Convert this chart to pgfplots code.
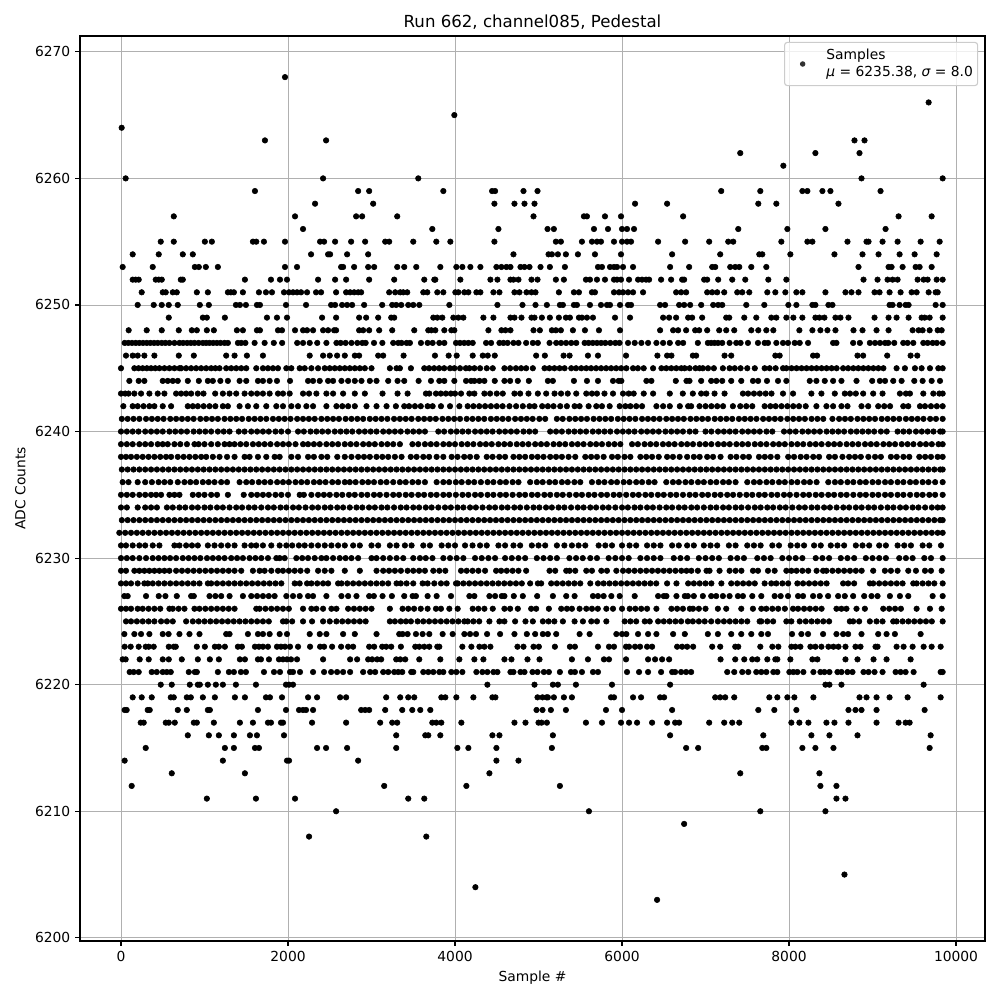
\documentclass[border=0pt]{standalone}
\usepackage{pgfplots}
\pgfplotsset{compat=1.18}
\usepackage{fontspec}
\setmainfont{DejaVu Sans}
\begin{document}
\begin{tikzpicture}
\path[use as bounding box] (0,0) rectangle (10in,10in);
\begin{axis}[at={(0.80in,0.59in)},anchor=south west,scale only axis,width=9.05in,height=9.05in,
xmin=-491,xmax=10347,ymin=6199.75,ymax=6271.25,
xtick={0,2000,4000,6000,8000,10000},ytick={6200,6210,6220,6230,6240,6250,6260,6270},
xtick pos=bottom,ytick pos=left,
/pgf/number format/assume math mode=true,/pgf/number format/1000 sep={},
scaled ticks=false,
tick label style={font=\fontsize{10}{12}\selectfont},
grid=major,grid style={color={rgb,255:red,176;green,176;blue,176},line width=0.6pt},
tick style={black,line width=0.8pt},tick align=outside,major tick length=3.5pt,
axis line style={line width=0.8pt},
xlabel={Sample \#},ylabel={ADC Counts},
label style={font=\fontsize{10}{12}\selectfont},
title={Run 662, channel085, Pedestal},title style={font=\fontsize{12}{14}\selectfont,yshift=-5pt},
legend cell align=left,
legend image code/.code={\path[draw=none,fill=none] (0,0) rectangle (0.37in,0); \fill[draw=none,black,sharp corners] (0.16in,0) circle (2pt);},
legend style={at={(0.9925,0.9935)},anchor=north east,draw={rgb,255:red,204;green,204;blue,204},rounded corners=2pt,fill=white,fill opacity=0.8,text opacity=1,font=\fontsize{10}{12}\selectfont,line width=0.8pt,inner xsep=1.5pt,inner ysep=2.8pt},
]
\addplot[only marks,mark=*,mark size=2pt,black] table {
1964 6268
9672 6266
8 6264
3992 6265
1724 6263
2456 6263
8784 6263
8904 6263
7416 6262
8316 6262
8844 6262
7932 6261
56 6260
2420 6260
3560 6260
8868 6260
9840 6260
1604 6259
2840 6259
2972 6259
3860 6259
4444 6259
4480 6259
4820 6259
4988 6259
7188 6259
7656 6259
8160 6259
8220 6259
8400 6259
8496 6259
9096 6259
2324 6258
3020 6258
4472 6258
4712 6258
4832 6258
4952 6258
6156 6258
6540 6258
7632 6258
7848 6258
8592 6258
632 6257
2084 6257
2816 6257
2888 6257
3308 6257
4940 6257
5544 6257
5580 6257
5796 6257
5988 6257
6732 6257
9312 6257
9708 6257
2180 6256
3728 6256
4520 6256
5108 6256
5184 6256
5664 6256
5832 6256
6000 6256
6060 6256
6144 6256
7392 6256
7980 6256
8436 6256
9156 6256
476 6255
632 6255
1004 6255
1088 6255
1580 6255
1620 6255
1712 6255
1964 6255
2384 6255
2432 6255
2564 6255
2756 6255
2924 6255
3164 6255
3212 6255
3500 6255
3776 6255
3944 6255
4472 6255
5208 6255
5268 6255
5520 6255
5640 6255
5700 6255
5748 6255
5904 6255
6000 6255
6060 6255
6108 6255
6432 6255
6756 6255
7044 6255
7272 6255
7332 6255
7908 6255
8220 6255
8280 6255
8700 6255
8928 6255
8952 6255
9120 6255
9300 6255
9576 6255
9804 6255
140 6254
452 6254
740 6254
860 6254
2276 6254
2480 6254
2504 6254
2708 6254
2960 6254
4700 6254
5120 6254
5160 6254
5232 6254
5328 6254
5472 6254
5676 6254
5988 6254
6600 6254
7176 6254
7644 6254
7680 6254
8016 6254
8544 6254
8880 6254
9072 6254
9324 6254
9504 6254
9768 6254
20 6253
380 6253
884 6253
932 6253
1016 6253
1160 6253
1964 6253
2108 6253
2636 6253
2660 6253
2792 6253
2960 6253
3032 6253
3308 6253
3392 6253
3536 6253
3824 6253
4016 6253
4088 6253
4184 6253
4304 6253
4496 6253
4556 6253
4616 6253
4664 6253
4784 6253
4832 6253
4892 6253
5024 6253
5136 6253
5316 6253
5712 6253
5760 6253
5856 6253
5904 6253
5940 6253
6012 6253
6132 6253
6576 6253
6804 6253
7080 6253
7116 6253
7296 6253
7356 6253
7404 6253
7548 6253
7728 6253
8832 6253
9192 6253
9228 6253
9360 6253
9516 6253
9564 6253
9708 6253
140 6252
176 6252
212 6252
416 6252
452 6252
488 6252
716 6252
740 6252
1484 6252
1796 6252
1904 6252
1988 6252
2360 6252
2564 6252
2696 6252
2972 6252
3272 6252
3632 6252
3752 6252
3764 6252
4064 6252
4424 6252
4508 6252
4664 6252
4700 6252
4760 6252
4916 6252
4988 6252
5208 6252
5304 6252
5568 6252
5616 6252
5700 6252
5796 6252
5904 6252
5940 6252
5988 6252
6084 6252
6192 6252
6240 6252
6288 6252
6324 6252
6468 6252
6588 6252
6720 6252
6744 6252
6984 6252
7020 6252
7152 6252
7320 6252
7476 6252
7752 6252
7968 6252
8892 6252
9060 6252
9180 6252
9240 6252
9300 6252
9540 6252
9612 6252
9660 6252
9768 6252
9840 6252
248 6251
500 6251
536 6251
620 6251
668 6251
908 6251
1040 6251
1280 6251
1316 6251
1352 6251
1460 6251
1652 6251
1736 6251
1808 6251
1952 6251
2012 6251
2060 6251
2108 6251
2156 6251
2228 6251
2336 6251
2396 6251
2576 6251
2696 6251
2744 6251
2792 6251
2840 6251
2876 6251
3212 6251
3284 6251
3344 6251
3380 6251
3428 6251
3620 6251
3668 6251
3788 6251
3860 6251
4004 6251
4040 6251
4112 6251
4160 6251
4256 6251
4304 6251
4460 6251
4532 6251
4712 6251
4772 6251
4856 6251
4916 6251
4964 6251
5244 6251
5424 6251
5484 6251
5640 6251
5676 6251
5904 6251
5964 6251
6012 6251
6072 6251
6132 6251
6252 6251
6648 6251
6708 6251
6768 6251
7020 6251
7080 6251
7140 6251
7224 6251
7380 6251
7440 6251
7524 6251
7740 6251
7836 6251
7956 6251
8088 6251
8160 6251
8436 6251
8676 6251
8748 6251
8832 6251
9024 6251
9084 6251
9204 6251
9336 6251
9468 6251
9528 6251
9672 6251
9756 6251
9780 6251
200 6250
392 6250
488 6250
572 6250
680 6250
944 6250
1052 6250
1376 6250
1424 6250
1496 6250
1628 6250
1664 6250
1976 6250
2216 6250
2516 6250
2564 6250
2648 6250
2708 6250
2768 6250
2912 6250
3128 6250
3248 6250
3296 6250
3356 6250
3440 6250
3500 6250
3572 6250
3932 6250
4508 6250
4808 6250
4964 6250
5100 6250
5256 6250
5292 6250
5424 6250
5460 6250
5616 6250
5748 6250
5820 6250
5856 6250
5976 6250
6072 6250
6108 6250
6456 6250
6516 6250
6684 6250
6744 6250
6816 6250
6948 6250
7092 6250
7152 6250
7200 6250
7488 6250
7704 6250
7992 6250
8088 6250
8280 6250
8316 6250
8472 6250
8520 6250
9204 6250
9240 6250
9324 6250
9396 6250
9432 6250
9756 6250
9840 6250
572 6249
980 6249
1028 6249
1244 6249
1748 6249
1868 6249
1988 6249
2408 6249
2576 6249
2852 6249
2936 6249
3080 6249
3236 6249
3272 6249
3740 6249
3788 6249
3848 6249
3980 6249
4040 6249
4100 6249
4340 6249
4460 6249
4664 6249
4712 6249
4796 6249
4916 6249
4952 6249
5040 6249
5136 6249
5244 6249
5328 6249
5376 6249
5484 6249
5520 6249
5580 6249
5652 6249
5916 6249
6096 6249
6492 6249
6564 6249
6648 6249
6792 6249
6840 6249
6960 6249
7248 6249
7284 6249
7464 6249
7608 6249
7788 6249
7848 6249
7968 6249
8052 6249
8160 6249
8316 6249
8364 6249
8424 6249
8556 6249
8616 6249
8712 6249
9024 6249
9192 6249
9288 6249
9432 6249
9588 6249
9624 6249
9684 6249
9840 6249
92 6248
308 6248
488 6248
692 6248
848 6248
908 6248
1028 6248
1112 6248
1388 6248
1460 6248
1628 6248
1664 6248
1880 6248
1928 6248
2084 6248
2180 6248
2228 6248
2300 6248
2420 6248
2480 6248
2552 6248
2576 6248
2852 6248
2900 6248
2972 6248
3092 6248
3248 6248
3512 6248
3680 6248
3716 6248
3764 6248
3872 6248
3956 6248
3992 6248
4400 6248
4556 6248
4604 6248
4664 6248
4940 6248
5016 6248
5160 6248
5208 6248
5268 6248
5412 6248
5556 6248
5724 6248
5976 6248
6456 6248
6612 6248
6672 6248
6768 6248
6876 6248
6924 6248
7020 6248
7164 6248
7248 6248
7344 6248
7548 6248
7632 6248
7728 6248
7812 6248
8124 6248
8280 6248
8376 6248
8460 6248
8556 6248
8772 6248
8880 6248
9048 6248
9192 6248
9480 6248
9552 6248
9600 6248
9684 6248
9780 6248
9828 6248
44 6247
88 6247
132 6247
176 6247
220 6247
264 6247
308 6247
352 6247
396 6247
440 6247
488 6247
532 6247
580 6247
640 6247
700 6247
744 6247
792 6247
836 6247
880 6247
930 6247
980 6247
1020 6247
1060 6247
1104 6247
1148 6247
1192 6247
1240 6247
1280 6247
1400 6247
1440 6247
1490 6247
1600 6247
1720 6247
1830 6247
1930 6247
2110 6247
2180 6247
2260 6247
2350 6247
2460 6247
2580 6247
2630 6247
2690 6247
2760 6247
2830 6247
2890 6247
2930 6247
3030 6247
3130 6247
3260 6247
3320 6247
3360 6247
3420 6247
3460 6247
3592 6247
3672 6247
3732 6247
3812 6247
3872 6247
4012 6247
4060 6247
4110 6247
4160 6247
4212 6247
4372 6247
4432 6247
4532 6247
4580 6247
4630 6247
4700 6247
4760 6247
4852 6247
4932 6247
4992 6247
5132 6247
5212 6247
5270 6247
5330 6247
5392 6247
5452 6247
5552 6247
5600 6247
5650 6247
5700 6247
5750 6247
5800 6247
5860 6247
5920 6247
5970 6247
6072 6247
6152 6247
6232 6247
6312 6247
6412 6247
6492 6247
6572 6247
6672 6247
6732 6247
6908 6247
7028 6247
7068 6247
7108 6247
7150 6247
7200 6247
7288 6247
7368 6247
7420 6247
7508 6247
7628 6247
7708 6247
7748 6247
7848 6247
7928 6247
7988 6247
8068 6247
8128 6247
8228 6247
8528 6247
8568 6247
8768 6247
8848 6247
8968 6247
9030 6247
9090 6247
9150 6247
9188 6247
9260 6247
9368 6247
9420 6247
9488 6247
9608 6247
9660 6247
9720 6247
9770 6247
9840 6247
60 6246
140 6246
200 6246
280 6246
400 6246
692 6246
872 6246
1260 6246
1360 6246
1508 6246
1700 6246
2260 6246
2420 6246
2500 6246
2588 6246
2680 6246
2800 6246
2852 6246
3080 6246
3140 6246
3384 6246
3760 6246
3924 6246
4020 6246
4212 6246
4332 6246
4392 6246
4476 6246
4972 6246
5076 6246
5300 6246
5372 6246
5592 6246
5712 6246
6048 6246
6424 6246
6540 6246
6592 6246
6848 6246
6888 6246
7228 6246
7308 6246
7836 6246
7888 6246
8288 6246
8336 6246
8820 6246
8888 6246
9176 6246
9456 6246
9536 6246
0 6245
160 6245
210 6245
260 6245
310 6245
360 6245
410 6245
460 6245
520 6245
580 6245
640 6245
700 6245
720 6245
780 6245
840 6245
900 6245
960 6245
1020 6245
1080 6245
1130 6245
1180 6245
1260 6245
1320 6245
1380 6245
1440 6245
1500 6245
1620 6245
1700 6245
1760 6245
1820 6245
1880 6245
1980 6245
2040 6245
2140 6245
2200 6245
2280 6245
2360 6245
2440 6245
2500 6245
2560 6245
2620 6245
2680 6245
2740 6245
2800 6245
2860 6245
2920 6245
3000 6245
3220 6245
3300 6245
3340 6245
3472 6245
3632 6245
3690 6245
3750 6245
3810 6245
3870 6245
3940 6245
3992 6245
4060 6245
4130 6245
4172 6245
4232 6245
4300 6245
4380 6245
4452 6245
4592 6245
4660 6245
4730 6245
4792 6245
4852 6245
4932 6245
5072 6245
5130 6245
5190 6245
5252 6245
5312 6245
5392 6245
5450 6245
5512 6245
5572 6245
5630 6245
5690 6245
5750 6245
5810 6245
5870 6245
5930 6245
5990 6245
6052 6245
6132 6245
6190 6245
6260 6245
6372 6245
6472 6245
6530 6245
6590 6245
6650 6245
6710 6245
6750 6245
6810 6245
6880 6245
6928 6245
6968 6245
7030 6245
7100 6245
7208 6245
7288 6245
7350 6245
7420 6245
7500 6245
7590 6245
7708 6245
7768 6245
7840 6245
7928 6245
7968 6245
8030 6245
8090 6245
8150 6245
8210 6245
8270 6245
8330 6245
8390 6245
8450 6245
8510 6245
8570 6245
8648 6245
8708 6245
8770 6245
8830 6245
8890 6245
8950 6245
9010 6245
9070 6245
9130 6245
9288 6245
9388 6245
9508 6245
9588 6245
9688 6245
9788 6245
9840 6245
100 6244
212 6244
280 6244
500 6244
560 6244
620 6244
680 6244
800 6244
932 6244
1040 6244
1100 6244
1190 6244
1280 6244
1420 6244
1500 6244
1640 6244
1700 6244
1780 6244
1868 6244
2024 6244
2240 6244
2300 6244
2380 6244
2480 6244
2540 6244
2640 6244
2720 6244
2800 6244
2880 6244
2980 6244
3060 6244
3200 6244
3312 6244
3392 6244
3564 6244
3712 6244
3812 6244
3872 6244
3992 6244
4132 6244
4192 6244
4232 6244
4292 6244
4352 6244
4476 6244
4592 6244
4660 6244
4752 6244
4884 6244
5112 6244
5172 6244
5424 6244
5580 6244
5712 6244
5892 6244
5960 6244
5992 6244
6292 6244
6352 6244
6644 6244
6772 6244
6808 6244
6948 6244
7068 6244
7130 6244
7200 6244
7308 6244
7428 6244
7568 6244
7630 6244
7736 6244
7868 6244
7968 6244
8248 6244
8328 6244
8428 6244
8528 6244
8628 6244
8808 6244
8996 6244
9088 6244
9150 6244
9248 6244
9348 6244
9500 6244
9600 6244
9708 6244
9808 6244
0 6243
50 6243
90 6243
160 6243
240 6243
340 6243
440 6243
520 6243
660 6243
720 6243
780 6243
840 6243
920 6243
988 6243
1128 6243
1220 6243
1300 6243
1380 6243
1480 6243
1560 6243
1630 6243
1700 6243
1780 6243
1880 6243
1940 6243
2020 6243
2180 6243
2252 6243
2340 6243
2460 6243
2540 6243
2660 6243
2800 6243
2920 6243
3132 6243
3312 6243
3432 6243
3652 6243
3692 6243
3772 6243
3830 6243
3890 6243
3950 6243
4000 6243
4072 6243
4172 6243
4232 6243
4352 6243
4420 6243
4500 6243
4572 6243
4712 6243
4780 6243
4880 6243
4992 6243
5092 6243
5192 6243
5270 6243
5350 6243
5452 6243
5572 6243
5640 6243
5700 6243
5790 6243
5892 6243
6012 6243
6080 6243
6140 6243
6260 6243
6372 6243
6572 6243
6728 6243
6848 6243
6948 6243
7010 6243
7108 6243
7228 6243
7448 6243
7510 6243
7580 6243
7650 6243
7720 6243
7790 6243
7928 6243
8048 6243
8268 6243
8388 6243
8548 6243
8668 6243
8730 6243
8800 6243
8888 6243
9008 6243
9120 6243
9328 6243
9400 6243
9448 6243
9608 6243
9728 6243
9800 6243
9840 6243
28 6242
140 6242
200 6242
270 6242
340 6242
400 6242
500 6242
600 6242
800 6242
860 6242
920 6242
990 6242
1060 6242
1130 6242
1220 6242
1280 6242
1420 6242
1520 6242
1620 6242
1740 6242
1860 6242
1940 6242
2040 6242
2120 6242
2220 6242
2300 6242
2460 6242
2580 6242
2650 6242
2720 6242
2800 6242
2940 6242
3060 6242
3180 6242
3292 6242
3392 6242
3450 6242
3520 6242
3590 6242
3672 6242
3732 6242
3832 6242
3940 6242
4052 6242
4152 6242
4220 6242
4290 6242
4360 6242
4430 6242
4500 6242
4570 6242
4652 6242
4732 6242
4812 6242
4892 6242
4952 6242
5044 6242
5112 6242
5180 6242
5260 6242
5340 6242
5432 6242
5492 6242
5600 6242
5692 6242
5760 6242
5852 6242
5972 6242
6040 6242
6100 6242
6170 6242
6240 6242
6412 6242
6492 6242
6572 6242
6692 6242
6792 6242
6828 6242
6928 6242
7000 6242
7070 6242
7140 6242
7210 6242
7328 6242
7416 6242
7488 6242
7560 6242
7708 6242
7776 6242
7840 6242
7910 6242
7980 6242
8050 6242
8120 6242
8200 6242
8328 6242
8448 6242
8528 6242
8628 6242
8700 6242
8868 6242
8948 6242
9068 6242
9140 6242
9210 6242
9368 6242
9428 6242
9568 6242
9628 6242
9700 6242
9770 6242
9840 6242
10 6241
80 6241
150 6241
220 6241
300 6241
370 6241
440 6241
510 6241
590 6241
660 6241
730 6241
800 6241
870 6241
950 6241
1020 6241
1090 6241
1160 6241
1240 6241
1310 6241
1380 6241
1450 6241
1530 6241
1600 6241
1670 6241
1740 6241
1820 6241
1890 6241
1960 6241
2030 6241
2110 6241
2180 6241
2250 6241
2320 6241
2400 6241
2470 6241
2540 6241
2610 6241
2690 6241
2760 6241
2830 6241
2900 6241
2980 6241
3050 6241
3120 6241
3190 6241
3270 6241
3340 6241
3410 6241
3480 6241
3560 6241
3630 6241
3700 6241
3770 6241
3850 6241
3920 6241
3990 6241
4060 6241
4140 6241
4210 6241
4280 6241
4350 6241
4430 6241
4500 6241
4570 6241
4640 6241
4720 6241
4790 6241
4860 6241
4930 6241
5010 6241
5080 6241
5220 6241
5290 6241
5370 6241
5440 6241
5510 6241
5580 6241
5660 6241
5730 6241
5800 6241
5870 6241
5950 6241
6020 6241
6090 6241
6160 6241
6240 6241
6310 6241
6380 6241
6450 6241
6530 6241
6600 6241
6670 6241
6740 6241
6820 6241
6890 6241
6960 6241
7030 6241
7110 6241
7180 6241
7250 6241
7320 6241
7400 6241
7470 6241
7540 6241
7610 6241
7690 6241
7760 6241
7830 6241
7900 6241
7980 6241
8050 6241
8120 6241
8190 6241
8270 6241
8340 6241
8410 6241
8520 6241
8600 6241
8670 6241
8740 6241
8820 6241
8890 6241
8960 6241
9030 6241
9110 6241
9180 6241
9250 6241
9320 6241
9400 6241
9470 6241
9540 6241
9610 6241
9690 6241
9760 6241
9840 6241
0 6240
70 6240
140 6240
210 6240
290 6240
360 6240
430 6240
500 6240
580 6240
650 6240
720 6240
790 6240
870 6240
940 6240
1010 6240
1080 6240
1160 6240
1230 6240
1300 6240
1410 6240
1480 6240
1560 6240
1630 6240
1700 6240
1770 6240
1850 6240
1920 6240
2000 6240
2120 6240
2190 6240
2270 6240
2340 6240
2410 6240
2480 6240
2560 6240
2630 6240
2700 6240
2770 6240
2850 6240
2920 6240
2990 6240
3060 6240
3140 6240
3210 6240
3280 6240
3350 6240
3430 6240
3500 6240
3570 6240
3640 6240
3800 6240
3870 6240
3950 6240
4020 6240
4090 6240
4160 6240
4240 6240
4310 6240
4380 6240
4450 6240
4530 6240
4600 6240
4670 6240
4740 6240
4820 6240
4890 6240
4960 6240
5140 6240
5210 6240
5280 6240
5360 6240
5430 6240
5500 6240
5570 6240
5650 6240
5720 6240
5790 6240
5860 6240
5940 6240
6010 6240
6080 6240
6150 6240
6230 6240
6300 6240
6370 6240
6440 6240
6520 6240
6590 6240
6660 6240
6730 6240
6810 6240
6880 6240
7000 6240
7070 6240
7150 6240
7220 6240
7290 6240
7360 6240
7440 6240
7510 6240
7580 6240
7650 6240
7730 6240
7800 6240
7940 6240
8010 6240
8080 6240
8160 6240
8230 6240
8300 6240
8370 6240
8450 6240
8520 6240
8590 6240
8660 6240
8740 6240
8810 6240
8880 6240
8950 6240
9020 6240
9100 6240
9170 6240
9300 6240
9370 6240
9440 6240
9520 6240
9590 6240
9660 6240
9730 6240
9810 6240
9840 6240
0 6239
70 6239
140 6239
220 6239
290 6239
360 6239
440 6239
500 6239
560 6239
640 6239
710 6239
790 6239
880 6239
930 6239
1000 6239
1080 6239
1160 6239
1240 6239
1300 6239
1360 6239
1430 6239
1500 6239
1580 6239
1650 6239
1720 6239
1790 6239
1870 6239
1940 6239
2010 6239
2090 6239
2180 6239
2240 6239
2310 6239
2380 6239
2460 6239
2530 6239
2600 6239
2680 6239
2750 6239
2820 6239
2900 6239
2970 6239
3040 6239
3120 6239
3190 6239
3260 6239
3340 6239
3490 6239
3560 6239
3640 6239
3710 6239
3780 6239
3860 6239
3930 6239
4000 6239
4080 6239
4150 6239
4220 6239
4300 6239
4370 6239
4440 6239
4520 6239
4590 6239
4660 6239
4740 6239
4810 6239
4880 6239
4960 6239
5030 6239
5100 6239
5180 6239
5250 6239
5320 6239
5400 6239
5470 6239
5540 6239
5620 6239
5690 6239
5760 6239
5840 6239
5910 6239
5980 6239
6120 6239
6190 6239
6270 6239
6340 6239
6410 6239
6490 6239
6560 6239
6630 6239
6710 6239
6780 6239
6850 6239
6930 6239
7000 6239
7070 6239
7150 6239
7220 6239
7290 6239
7370 6239
7440 6239
7510 6239
7590 6239
7660 6239
7730 6239
7810 6239
7880 6239
7950 6239
8030 6239
8100 6239
8170 6239
8250 6239
8320 6239
8390 6239
8470 6239
8540 6239
8610 6239
8690 6239
8760 6239
8830 6239
8910 6239
8980 6239
9050 6239
9130 6239
9200 6239
9270 6239
9350 6239
9420 6239
9490 6239
9570 6239
9640 6239
9710 6239
9790 6239
9840 6239
0 6238
60 6238
120 6238
190 6238
260 6238
330 6238
400 6238
470 6238
540 6238
600 6238
680 6238
750 6238
820 6238
890 6238
960 6238
1020 6238
1100 6238
1180 6238
1270 6238
1360 6238
1480 6238
1540 6238
1640 6238
1740 6238
1840 6238
1900 6238
2040 6238
2120 6238
2240 6238
2310 6238
2400 6238
2470 6238
2590 6238
2680 6238
2760 6238
2840 6238
2910 6238
2980 6238
3060 6238
3130 6238
3200 6238
3280 6238
3360 6238
3470 6238
3540 6238
3620 6238
3690 6238
3780 6238
3860 6238
3960 6238
4030 6238
4110 6238
4180 6238
4260 6238
4380 6238
4450 6238
4530 6238
4600 6238
4700 6238
4770 6238
4840 6238
4920 6238
4990 6238
5060 6238
5140 6238
5210 6238
5280 6238
5360 6238
5440 6238
5560 6238
5630 6238
5700 6238
5780 6238
5880 6238
5950 6238
6030 6238
6100 6238
6220 6238
6290 6238
6360 6238
6440 6238
6540 6238
6610 6238
6690 6238
6780 6238
6860 6238
6930 6238
7020 6238
7090 6238
7180 6238
7300 6238
7370 6238
7450 6238
7520 6238
7640 6238
7710 6238
7780 6238
7860 6238
7990 6238
8060 6238
8140 6238
8210 6238
8290 6238
8360 6238
8480 6238
8550 6238
8640 6238
8720 6238
8790 6238
8860 6238
8950 6238
9030 6238
9100 6238
9220 6238
9290 6238
9370 6238
9440 6238
9560 6238
9630 6238
9700 6238
9780 6238
9840 6238
10 6237
80 6237
150 6237
220 6237
290 6237
360 6237
430 6237
500 6237
570 6237
640 6237
710 6237
780 6237
850 6237
920 6237
990 6237
1060 6237
1130 6237
1200 6237
1270 6237
1340 6237
1410 6237
1480 6237
1550 6237
1620 6237
1690 6237
1760 6237
1830 6237
1900 6237
1970 6237
2040 6237
2110 6237
2180 6237
2250 6237
2320 6237
2390 6237
2460 6237
2530 6237
2600 6237
2670 6237
2740 6237
2810 6237
2880 6237
2950 6237
3020 6237
3090 6237
3160 6237
3230 6237
3300 6237
3370 6237
3440 6237
3510 6237
3580 6237
3650 6237
3720 6237
3790 6237
3860 6237
3930 6237
4000 6237
4070 6237
4140 6237
4210 6237
4280 6237
4350 6237
4420 6237
4490 6237
4560 6237
4630 6237
4700 6237
4770 6237
4840 6237
4910 6237
4980 6237
5050 6237
5120 6237
5190 6237
5260 6237
5330 6237
5400 6237
5470 6237
5540 6237
5610 6237
5680 6237
5750 6237
5820 6237
5890 6237
5960 6237
6030 6237
6100 6237
6170 6237
6240 6237
6310 6237
6380 6237
6450 6237
6520 6237
6590 6237
6660 6237
6730 6237
6800 6237
6870 6237
6940 6237
7010 6237
7080 6237
7150 6237
7220 6237
7290 6237
7360 6237
7430 6237
7500 6237
7570 6237
7640 6237
7710 6237
7780 6237
7850 6237
7920 6237
7990 6237
8060 6237
8130 6237
8200 6237
8270 6237
8340 6237
8410 6237
8480 6237
8550 6237
8620 6237
8690 6237
8760 6237
8830 6237
8900 6237
8970 6237
9040 6237
9110 6237
9180 6237
9250 6237
9320 6237
9390 6237
9460 6237
9530 6237
9600 6237
9670 6237
9740 6237
9810 6237
9840 6237
20 6236
90 6236
200 6236
290 6236
370 6236
450 6236
520 6236
590 6236
680 6236
760 6236
830 6236
900 6236
980 6236
1050 6236
1120 6236
1200 6236
1270 6236
1420 6236
1500 6236
1570 6236
1650 6236
1720 6236
1790 6236
1870 6236
1940 6236
2010 6236
2090 6236
2160 6236
2230 6236
2310 6236
2380 6236
2450 6236
2530 6236
2600 6236
2680 6236
2740 6236
2810 6236
2890 6236
2960 6236
3030 6236
3110 6236
3180 6236
3260 6236
3340 6236
3410 6236
3490 6236
3560 6236
3640 6236
3780 6236
3860 6236
3930 6236
4010 6236
4080 6236
4160 6236
4230 6236
4310 6236
4390 6236
4460 6236
4540 6236
4610 6236
4690 6236
4760 6236
4900 6236
4980 6236
5050 6236
5130 6236
5200 6236
5280 6236
5350 6236
5430 6236
5500 6236
5640 6236
5720 6236
5790 6236
5870 6236
5940 6236
6020 6236
6090 6236
6170 6236
6240 6236
6320 6236
6390 6236
6530 6236
6610 6236
6680 6236
6760 6236
6830 6236
6910 6236
6980 6236
7060 6236
7130 6236
7210 6236
7280 6236
7360 6236
7500 6236
7580 6236
7650 6236
7730 6236
7800 6236
7880 6236
7950 6236
8030 6236
8100 6236
8180 6236
8250 6236
8330 6236
8470 6236
8550 6236
8620 6236
8700 6236
8770 6236
8850 6236
8920 6236
9000 6236
9070 6236
9150 6236
9220 6236
9300 6236
9370 6236
9450 6236
9520 6236
9600 6236
9670 6236
9750 6236
9840 6236
0 6235
70 6235
140 6235
220 6235
290 6235
360 6235
420 6235
480 6235
580 6235
640 6235
700 6235
860 6235
930 6235
1000 6235
1080 6235
1150 6235
1280 6235
1470 6235
1560 6235
1630 6235
1700 6235
1770 6235
1850 6235
1920 6235
2000 6235
2140 6235
2190 6235
2280 6235
2360 6235
2430 6235
2500 6235
2580 6235
2650 6235
2730 6235
2800 6235
2880 6235
2950 6235
3030 6235
3100 6235
3180 6235
3260 6235
3330 6235
3410 6235
3480 6235
3560 6235
3630 6235
3710 6235
3780 6235
3860 6235
3930 6235
4010 6235
4090 6235
4160 6235
4240 6235
4310 6235
4390 6235
4460 6235
4540 6235
4610 6235
4690 6235
4770 6235
4840 6235
4920 6235
4990 6235
5070 6235
5140 6235
5220 6235
5290 6235
5370 6235
5450 6235
5520 6235
5600 6235
5670 6235
5750 6235
5820 6235
5900 6235
5970 6235
6050 6235
6130 6235
6200 6235
6280 6235
6350 6235
6430 6235
6500 6235
6580 6235
6650 6235
6730 6235
6810 6235
6880 6235
6960 6235
7030 6235
7110 6235
7180 6235
7260 6235
7330 6235
7410 6235
7490 6235
7560 6235
7640 6235
7710 6235
7790 6235
7860 6235
7940 6235
8010 6235
8090 6235
8170 6235
8240 6235
8320 6235
8390 6235
8470 6235
8540 6235
8620 6235
8690 6235
8770 6235
8850 6235
8920 6235
9000 6235
9070 6235
9150 6235
9220 6235
9300 6235
9370 6235
9450 6235
9530 6235
9600 6235
9680 6235
9750 6235
9840 6235
0 6234
70 6234
200 6234
290 6234
360 6234
430 6234
550 6234
620 6234
700 6234
770 6234
850 6234
920 6234
1000 6234
1070 6234
1150 6234
1220 6234
1300 6234
1380 6234
1450 6234
1530 6234
1600 6234
1680 6234
1760 6234
1830 6234
1910 6234
1980 6234
2060 6234
2130 6234
2210 6234
2290 6234
2360 6234
2440 6234
2510 6234
2590 6234
2660 6234
2740 6234
2820 6234
2890 6234
2970 6234
3040 6234
3120 6234
3190 6234
3270 6234
3350 6234
3420 6234
3500 6234
3570 6234
3650 6234
3720 6234
3800 6234
3880 6234
3950 6234
4030 6234
4100 6234
4180 6234
4250 6234
4330 6234
4410 6234
4480 6234
4560 6234
4630 6234
4710 6234
4780 6234
4860 6234
4940 6234
5010 6234
5090 6234
5160 6234
5240 6234
5310 6234
5390 6234
5470 6234
5540 6234
5620 6234
5690 6234
5770 6234
5840 6234
5920 6234
6000 6234
6070 6234
6150 6234
6220 6234
6300 6234
6370 6234
6450 6234
6530 6234
6600 6234
6680 6234
6750 6234
6830 6234
6900 6234
6980 6234
7060 6234
7130 6234
7210 6234
7280 6234
7360 6234
7430 6234
7510 6234
7590 6234
7660 6234
7740 6234
7810 6234
7890 6234
7960 6234
8040 6234
8120 6234
8190 6234
8270 6234
8340 6234
8420 6234
8490 6234
8570 6234
8650 6234
8720 6234
8800 6234
8870 6234
8950 6234
9020 6234
9100 6234
9180 6234
9250 6234
9330 6234
9400 6234
9480 6234
9550 6234
9630 6234
9710 6234
9780 6234
9840 6234
10 6233
80 6233
150 6233
220 6233
290 6233
360 6233
430 6233
500 6233
570 6233
640 6233
710 6233
780 6233
850 6233
920 6233
990 6233
1060 6233
1130 6233
1200 6233
1270 6233
1340 6233
1410 6233
1480 6233
1550 6233
1620 6233
1690 6233
1760 6233
1830 6233
1900 6233
1970 6233
2040 6233
2110 6233
2180 6233
2250 6233
2320 6233
2390 6233
2460 6233
2530 6233
2600 6233
2670 6233
2740 6233
2810 6233
2880 6233
2950 6233
3020 6233
3090 6233
3160 6233
3230 6233
3300 6233
3370 6233
3440 6233
3510 6233
3580 6233
3650 6233
3720 6233
3790 6233
3860 6233
3930 6233
4000 6233
4070 6233
4140 6233
4210 6233
4280 6233
4350 6233
4420 6233
4490 6233
4560 6233
4630 6233
4700 6233
4770 6233
4840 6233
4910 6233
4980 6233
5050 6233
5120 6233
5190 6233
5260 6233
5330 6233
5400 6233
5470 6233
5540 6233
5610 6233
5680 6233
5750 6233
5820 6233
5890 6233
5960 6233
6030 6233
6100 6233
6170 6233
6240 6233
6310 6233
6380 6233
6450 6233
6520 6233
6590 6233
6660 6233
6730 6233
6800 6233
6870 6233
6940 6233
7010 6233
7080 6233
7150 6233
7220 6233
7290 6233
7360 6233
7430 6233
7500 6233
7570 6233
7640 6233
7710 6233
7780 6233
7850 6233
7920 6233
7990 6233
8060 6233
8130 6233
8200 6233
8270 6233
8340 6233
8410 6233
8480 6233
8550 6233
8620 6233
8690 6233
8760 6233
8830 6233
8900 6233
8970 6233
9040 6233
9110 6233
9180 6233
9250 6233
9320 6233
9390 6233
9460 6233
9530 6233
9600 6233
9670 6233
9740 6233
9810 6233
9840 6233
-20 6232
50 6232
120 6232
190 6232
260 6232
330 6232
400 6232
470 6232
540 6232
610 6232
680 6232
750 6232
820 6232
890 6232
960 6232
1030 6232
1100 6232
1170 6232
1240 6232
1310 6232
1380 6232
1450 6232
1520 6232
1590 6232
1660 6232
1730 6232
1800 6232
1870 6232
1940 6232
2010 6232
2080 6232
2150 6232
2220 6232
2290 6232
2360 6232
2430 6232
2500 6232
2570 6232
2640 6232
2710 6232
2780 6232
2850 6232
2920 6232
2990 6232
3060 6232
3130 6232
3200 6232
3270 6232
3340 6232
3410 6232
3480 6232
3550 6232
3620 6232
3690 6232
3760 6232
3830 6232
3900 6232
3970 6232
4040 6232
4110 6232
4180 6232
4250 6232
4320 6232
4390 6232
4460 6232
4530 6232
4600 6232
4670 6232
4740 6232
4810 6232
4880 6232
4950 6232
5020 6232
5090 6232
5160 6232
5230 6232
5300 6232
5370 6232
5440 6232
5510 6232
5580 6232
5650 6232
5720 6232
5790 6232
5860 6232
5930 6232
6000 6232
6070 6232
6140 6232
6210 6232
6280 6232
6350 6232
6420 6232
6490 6232
6560 6232
6630 6232
6700 6232
6770 6232
6840 6232
6910 6232
6980 6232
7050 6232
7120 6232
7190 6232
7260 6232
7330 6232
7400 6232
7470 6232
7540 6232
7610 6232
7680 6232
7750 6232
7820 6232
7890 6232
7960 6232
8030 6232
8100 6232
8170 6232
8240 6232
8310 6232
8380 6232
8450 6232
8520 6232
8590 6232
8660 6232
8730 6232
8800 6232
8870 6232
8940 6232
9010 6232
9080 6232
9150 6232
9220 6232
9290 6232
9360 6232
9430 6232
9500 6232
9570 6232
9640 6232
9710 6232
9780 6232
9840 6232
0 6231
60 6231
140 6231
220 6231
290 6231
380 6231
460 6231
640 6231
700 6231
780 6231
850 6231
920 6231
1040 6231
1120 6231
1200 6231
1280 6231
1360 6231
1480 6231
1560 6231
1620 6231
1700 6231
1800 6231
1900 6231
1980 6231
2050 6231
2130 6231
2200 6231
2280 6231
2360 6231
2440 6231
2520 6231
2600 6231
2680 6231
2780 6231
2860 6231
3000 6231
3080 6231
3220 6231
3300 6231
3400 6231
3480 6231
3620 6231
3700 6231
3840 6231
3920 6231
4000 6231
4120 6231
4210 6231
4300 6231
4380 6231
4520 6231
4600 6231
4700 6231
4780 6231
4920 6231
5000 6231
5080 6231
5220 6231
5310 6231
5400 6231
5480 6231
5560 6231
5720 6231
5800 6231
5880 6231
6000 6231
6090 6231
6170 6231
6300 6231
6380 6231
6460 6231
6600 6231
6680 6231
6780 6231
6860 6231
6980 6231
7060 6231
7140 6231
7280 6231
7360 6231
7500 6231
7580 6231
7660 6231
7800 6231
7880 6231
8020 6231
8100 6231
8180 6231
8300 6231
8380 6231
8500 6231
8580 6231
8660 6231
8800 6231
8880 6231
8960 6231
9080 6231
9160 6231
9300 6231
9380 6231
9460 6231
9600 6231
9680 6231
9820 6231
0 6230
70 6230
140 6230
220 6230
300 6230
380 6230
450 6230
520 6230
588 6230
660 6230
740 6230
810 6230
880 6230
950 6230
1030 6230
1100 6230
1170 6230
1240 6230
1320 6230
1390 6230
1460 6230
1540 6230
1610 6230
1680 6230
1760 6230
1860 6230
1900 6230
1960 6230
2100 6230
2170 6230
2240 6230
2320 6230
2400 6230
2460 6230
2540 6230
2620 6230
2690 6230
2760 6230
2840 6230
3000 6230
3060 6230
3140 6230
3220 6230
3300 6230
3380 6230
3500 6230
3580 6230
3650 6230
3730 6230
3860 6230
3940 6230
4020 6230
4100 6230
4240 6230
4320 6230
4400 6230
4480 6230
4600 6230
4680 6230
4760 6230
4840 6230
4980 6230
5060 6230
5140 6230
5220 6230
5370 6230
5450 6230
5530 6230
5620 6230
5700 6230
5840 6230
5920 6230
6000 6230
6080 6230
6220 6230
6300 6230
6380 6230
6460 6230
6620 6230
6700 6230
6780 6230
6920 6230
7000 6230
7080 6230
7160 6230
7300 6230
7380 6230
7460 6230
7620 6230
7700 6230
7780 6230
7920 6230
8000 6230
8080 6230
8160 6230
8320 6230
8400 6230
8480 6230
8620 6230
8700 6230
8780 6230
8920 6230
9000 6230
9080 6230
9160 6230
9320 6230
9400 6230
9480 6230
9620 6230
9700 6230
9840 6230
0 6229
60 6229
160 6229
220 6229
280 6229
340 6229
400 6229
460 6229
520 6229
580 6229
660 6229
730 6229
800 6229
870 6229
940 6229
1010 6229
1080 6229
1150 6229
1220 6229
1290 6229
1360 6229
1440 6229
1580 6229
1660 6229
1720 6229
1800 6229
1880 6229
1940 6229
2010 6229
2080 6229
2150 6229
2230 6229
2360 6229
2440 6229
2520 6229
2680 6229
2860 6229
3060 6229
3140 6229
3210 6229
3280 6229
3352 6229
3432 6229
3500 6229
3570 6229
3640 6229
3740 6229
3812 6229
3884 6229
4072 6229
4140 6229
4210 6229
4280 6229
4360 6229
4492 6229
4552 6229
4620 6229
4690 6229
4760 6229
4852 6229
5132 6229
5200 6229
5332 6229
5372 6229
5440 6229
5572 6229
5640 6229
5752 6229
5820 6229
5932 6229
6012 6229
6080 6229
6150 6229
6220 6229
6290 6229
6360 6229
6430 6229
6500 6229
6570 6229
6640 6229
6710 6229
6772 6229
6830 6229
6908 6229
7012 6229
7048 6229
7168 6229
7288 6229
7360 6229
7430 6229
7568 6229
7628 6229
7748 6229
7828 6229
7968 6229
8028 6229
8090 6229
8160 6229
8230 6229
8330 6229
8408 6229
8448 6229
8520 6229
8590 6229
8660 6229
8730 6229
8800 6229
8870 6229
9008 6229
9148 6229
9220 6229
9300 6229
9428 6229
9520 6229
9628 6229
9700 6229
9828 6229
0 6228
60 6228
120 6228
200 6228
280 6228
320 6228
380 6228
450 6228
520 6228
590 6228
660 6228
730 6228
800 6228
870 6228
940 6228
1040 6228
1080 6228
1150 6228
1220 6228
1290 6228
1360 6228
1430 6228
1500 6228
1570 6228
1640 6228
1710 6228
1780 6228
1850 6228
1920 6228
2080 6228
2140 6228
2228 6228
2280 6228
2350 6228
2420 6228
2480 6228
2600 6228
2640 6228
2710 6228
2780 6228
2850 6228
2920 6228
2990 6228
3060 6228
3130 6228
3200 6228
3300 6228
3350 6228
3420 6228
3500 6228
3612 6228
3672 6228
3752 6228
3832 6228
3900 6228
4012 6228
4032 6228
4100 6228
4170 6228
4240 6228
4310 6228
4380 6228
4450 6228
4520 6228
4590 6228
4660 6228
4730 6228
4800 6228
4900 6228
4992 6228
5032 6228
5152 6228
5220 6228
5290 6228
5360 6228
5430 6228
5500 6228
5620 6228
5712 6228
5780 6228
5850 6228
5920 6228
5990 6228
6060 6228
6130 6228
6200 6228
6270 6228
6340 6228
6410 6228
6540 6228
6652 6228
6792 6228
6860 6228
6930 6228
7000 6228
7070 6228
7190 6228
7308 6228
7380 6228
7450 6228
7520 6228
7590 6228
7708 6228
7788 6228
7848 6228
7920 6228
7990 6228
8100 6228
8168 6228
8240 6228
8310 6228
8380 6228
8450 6228
8648 6228
8708 6228
8780 6228
8968 6228
9008 6228
9080 6228
9150 6228
9220 6228
9290 6228
9360 6228
9488 6228
9528 6228
9600 6228
9670 6228
9740 6228
9840 6228
40 6227
80 6227
300 6227
452 6227
532 6227
668 6227
840 6227
872 6227
1060 6227
1130 6227
1200 6227
1300 6227
1460 6227
1560 6227
1630 6227
1700 6227
1770 6227
1840 6227
1980 6227
2060 6227
2140 6227
2240 6227
2300 6227
2460 6227
2640 6227
2720 6227
2820 6227
2972 6227
3028 6227
3132 6227
3244 6227
3392 6227
3492 6227
3532 6227
3672 6227
3780 6227
3952 6227
4172 6227
4232 6227
4412 6227
4480 6227
4560 6227
4592 6227
4704 6227
4812 6227
4984 6227
5172 6227
5332 6227
5432 6227
5652 6227
5712 6227
5780 6227
5872 6227
5972 6227
6152 6227
6432 6227
6500 6227
6532 6227
6652 6227
6752 6227
6788 6227
6860 6227
6968 6227
7068 6227
7128 6227
7208 6227
7288 6227
7388 6227
7448 6227
7560 6227
7668 6227
7828 6227
7900 6227
7988 6227
8108 6227
8168 6227
8288 6227
8368 6227
8468 6227
8588 6227
8668 6227
8768 6227
8900 6227
8988 6227
9060 6227
9208 6227
9328 6227
9428 6227
9720 6227
9840 6227
0 6226
60 6226
120 6226
200 6226
260 6226
330 6226
400 6226
470 6226
580 6226
620 6226
690 6226
760 6226
880 6226
940 6226
1010 6226
1080 6226
1150 6226
1220 6226
1290 6226
1360 6226
1620 6226
1660 6226
1730 6226
1800 6226
1870 6226
1940 6226
2010 6226
2180 6226
2280 6226
2340 6226
2420 6226
2520 6226
2580 6226
2720 6226
2790 6226
2860 6226
2930 6226
3000 6226
3220 6226
3372 6226
3440 6226
3510 6226
3590 6226
3672 6226
3772 6226
3832 6226
3932 6226
4032 6226
4212 6226
4280 6226
4352 6226
4452 6226
4592 6226
4660 6226
4752 6226
4912 6226
4972 6226
5124 6226
5272 6226
5340 6226
5400 6226
5492 6226
5572 6226
5640 6226
5710 6226
5812 6226
5892 6226
6000 6226
6092 6226
6160 6226
6230 6226
6300 6226
6412 6226
6592 6226
6660 6226
6730 6226
6812 6226
6850 6226
6920 6226
7000 6226
7148 6226
7248 6226
7428 6226
7568 6226
7668 6226
7728 6226
7800 6226
7870 6226
7950 6226
8048 6226
8108 6226
8180 6226
8250 6226
8320 6226
8390 6226
8568 6226
8628 6226
8688 6226
8808 6226
8908 6226
9128 6226
9200 6226
9270 6226
9340 6226
9528 6226
9688 6226
9828 6226
60 6225
120 6225
190 6225
260 6225
330 6225
400 6225
480 6225
550 6225
620 6225
780 6225
860 6225
930 6225
1000 6225
1070 6225
1140 6225
1210 6225
1280 6225
1350 6225
1420 6225
1490 6225
1560 6225
1630 6225
1700 6225
1770 6225
1940 6225
1980 6225
2050 6225
2180 6225
2288 6225
2420 6225
2500 6225
2580 6225
2650 6225
2720 6225
2790 6225
2860 6225
2930 6225
3220 6225
3280 6225
3350 6225
3412 6225
3472 6225
3552 6225
3620 6225
3690 6225
3760 6225
3830 6225
3900 6225
3970 6225
4040 6225
4112 6225
4152 6225
4220 6225
4290 6225
4412 6225
4532 6225
4592 6225
4720 6225
4844 6225
4932 6225
5052 6225
5120 6225
5190 6225
5292 6225
5432 6225
5532 6225
5632 6225
5700 6225
5812 6225
6032 6225
6100 6225
6170 6225
6272 6225
6332 6225
6432 6225
6500 6225
6570 6225
6640 6225
6708 6225
6788 6225
6848 6225
6920 6225
6990 6225
7068 6225
7148 6225
7220 6225
7290 6225
7360 6225
7430 6225
7500 6225
7648 6225
7668 6225
7740 6225
7810 6225
7968 6225
8028 6225
8128 6225
8200 6225
8270 6225
8340 6225
8410 6225
8480 6225
8728 6225
8768 6225
8840 6225
8968 6225
9048 6225
9120 6225
9248 6225
9288 6225
9360 6225
9430 6225
9500 6225
9570 6225
9640 6225
9710 6225
9840 6225
40 6224
160 6224
240 6224
340 6224
500 6224
570 6224
700 6224
820 6224
940 6224
1260 6224
1300 6224
1520 6224
1640 6224
1700 6224
1780 6224
1900 6224
1988 6224
2260 6224
2380 6224
2460 6224
2660 6224
2800 6224
3060 6224
3332 6224
3372 6224
3432 6224
3532 6224
3612 6224
3692 6224
3852 6224
3972 6224
4112 6224
4180 6224
4252 6224
4384 6224
4540 6224
4712 6224
4860 6224
4960 6224
5052 6224
5112 6224
5212 6224
5492 6224
5612 6224
5932 6224
6000 6224
6052 6224
6192 6224
6312 6224
6412 6224
6612 6224
6752 6224
7028 6224
7148 6224
7308 6224
7428 6224
7548 6224
7668 6224
7748 6224
8036 6224
8148 6224
8228 6224
8408 6224
8568 6224
8648 6224
8708 6224
8868 6224
9068 6224
9168 6224
9268 6224
9576 6224
44 6223
116 6223
212 6223
296 6223
332 6223
392 6223
572 6223
632 6223
656 6223
908 6223
1004 6223
1124 6223
1172 6223
1244 6223
1400 6223
1448 6223
1604 6223
1652 6223
1700 6223
1760 6223
1868 6223
1916 6223
1964 6223
2024 6223
2120 6223
2264 6223
2384 6223
2432 6223
2528 6223
2636 6223
2720 6223
2780 6223
2972 6223
3032 6223
3128 6223
3176 6223
3236 6223
3352 6223
3524 6223
3572 6223
3632 6223
3692 6223
3788 6223
3812 6223
4088 6223
4196 6223
4292 6223
4352 6223
4424 6223
4748 6223
4820 6223
4940 6223
5004 6223
5196 6223
5376 6223
5436 6223
5712 6223
5844 6223
5904 6223
6048 6223
6084 6223
6156 6223
6216 6223
6300 6223
6360 6223
6660 6223
6720 6223
6780 6223
6852 6223
7080 6223
7176 6223
7356 6223
7392 6223
7656 6223
7800 6223
7872 6223
8028 6223
8076 6223
8136 6223
8256 6223
8316 6223
8388 6223
8472 6223
8532 6223
8592 6223
8676 6223
8796 6223
8856 6223
9036 6223
9060 6223
9288 6223
9372 6223
9480 6223
9612 6223
9708 6223
9816 6223
20 6222
56 6222
224 6222
332 6222
500 6222
572 6222
728 6222
920 6222
1064 6222
1172 6222
1424 6222
1484 6222
1640 6222
1676 6222
1772 6222
1892 6222
1940 6222
1988 6222
2036 6222
2108 6222
2420 6222
2744 6222
2828 6222
2960 6222
3008 6222
3068 6222
3116 6222
3296 6222
3344 6222
3404 6222
3572 6222
3824 6222
4052 6222
4232 6222
4340 6222
4592 6222
4676 6222
4868 6222
5012 6222
5400 6222
5592 6222
5784 6222
5844 6222
6048 6222
6312 6222
6396 6222
6480 6222
6564 6222
7180 6222
7356 6222
7464 6222
7560 6222
7620 6222
7740 6222
7836 6222
7860 6222
8016 6222
8280 6222
8340 6222
8676 6222
8820 6222
9012 6222
9168 6222
9456 6222
104 6221
152 6221
212 6221
368 6221
428 6221
500 6221
548 6221
596 6221
812 6221
884 6221
908 6221
1160 6221
1292 6221
1352 6221
1436 6221
1496 6221
1712 6221
1832 6221
1904 6221
2024 6221
2060 6221
2144 6221
2300 6221
2432 6221
2516 6221
2588 6221
2660 6221
2744 6221
2900 6221
2984 6221
3044 6221
3140 6221
3200 6221
3272 6221
3320 6221
3368 6221
3476 6221
3500 6221
3620 6221
3680 6221
3740 6221
3812 6221
3860 6221
3956 6221
4016 6221
4088 6221
4256 6221
4328 6221
4388 6221
4460 6221
4508 6221
4664 6221
4700 6221
4784 6221
4832 6221
4928 6221
4988 6221
5064 6221
5124 6221
5256 6221
5388 6221
5436 6221
5520 6221
5652 6221
5712 6221
6060 6221
6204 6221
6312 6221
6468 6221
6600 6221
6636 6221
6708 6221
6768 6221
6828 6221
7260 6221
7344 6221
7440 6221
7512 6221
7608 6221
7668 6221
7728 6221
7812 6221
7860 6221
8004 6221
8052 6221
8100 6221
8172 6221
8292 6221
8376 6221
8424 6221
8484 6221
8580 6221
8628 6221
8700 6221
8760 6221
8892 6221
8952 6221
9024 6221
9120 6221
9276 6221
9336 6221
9396 6221
9492 6221
9816 6221
9840 6221
476 6220
608 6220
824 6220
920 6220
944 6220
1040 6220
1136 6220
1220 6220
1376 6220
1616 6220
1976 6220
2012 6220
2060 6220
4388 6220
4952 6220
5172 6220
5232 6220
5448 6220
5880 6220
6576 6220
8436 6220
8484 6220
8628 6220
9612 6220
140 6219
248 6219
368 6219
596 6219
632 6219
788 6219
836 6219
980 6219
1124 6219
1364 6219
1484 6219
1736 6219
1784 6219
1928 6219
2240 6219
2348 6219
2624 6219
2696 6219
3176 6219
3344 6219
3440 6219
3512 6219
3836 6219
3884 6219
4016 6219
4220 6219
4448 6219
4484 6219
4988 6219
5048 6219
5096 6219
5112 6219
5184 6219
5304 6219
5400 6219
5868 6219
5904 6219
6132 6219
6228 6219
6456 6219
6504 6219
7116 6219
7176 6219
7236 6219
7344 6219
7764 6219
7860 6219
7980 6219
8064 6219
8292 6219
8844 6219
8928 6219
9048 6219
9204 6219
9420 6219
9816 6219
44 6218
68 6218
320 6218
344 6218
680 6218
788 6218
1040 6218
1064 6218
1640 6218
1976 6218
2132 6218
2180 6218
2216 6218
2300 6218
2876 6218
2924 6218
2972 6218
3164 6218
3368 6218
3488 6218
3584 6218
3704 6218
4976 6218
5048 6218
5148 6218
5328 6218
5808 6218
6000 6218
6600 6218
7632 6218
7824 6218
8088 6218
8712 6218
8796 6218
8868 6218
9048 6218
9624 6218
236 6217
272 6217
536 6217
572 6217
644 6217
872 6217
908 6217
1112 6217
1424 6217
1580 6217
1760 6217
1796 6217
1916 6217
1940 6217
2288 6217
2696 6217
3104 6217
3248 6217
3308 6217
3728 6217
3776 6217
3836 6217
4076 6217
4712 6217
4844 6217
5000 6217
5036 6217
5100 6217
5568 6217
5760 6217
5988 6217
6084 6217
6180 6217
6360 6217
6540 6217
6636 6217
6684 6217
7044 6217
7224 6217
7320 6217
7404 6217
8028 6217
8124 6217
8232 6217
8448 6217
8544 6217
8712 6217
9048 6217
9312 6217
9396 6217
9444 6217
800 6216
1052 6216
1172 6216
1352 6216
1544 6216
1628 6216
1952 6216
3296 6216
3644 6216
3680 6216
3824 6216
4448 6216
4532 6216
5172 6216
6576 6216
7692 6216
8268 6216
8484 6216
8820 6216
9696 6216
296 6215
1244 6215
1352 6215
1604 6215
1652 6215
2348 6215
2456 6215
2708 6215
3296 6215
4028 6215
4160 6215
4496 6215
5160 6215
6768 6215
6912 6215
7680 6215
7728 6215
8160 6215
8316 6215
8532 6215
9684 6215
44 6214
1220 6214
1988 6214
2012 6214
2840 6214
4496 6214
4760 6214
608 6213
1484 6213
4412 6213
7416 6213
8364 6213
128 6212
3152 6212
4136 6212
5256 6212
8376 6212
8568 6212
1028 6211
1616 6211
2084 6211
3440 6211
3632 6211
8568 6211
8676 6211
2576 6210
5604 6210
7656 6210
8436 6210
6744 6209
2252 6208
3656 6208
8664 6205
4244 6204
6420 6203
};
\addlegendentry{\shortstack[l]{Samples\\{\itshape μ} = 6235.38, {\itshape σ} = 8.0}}
\end{axis}
\end{tikzpicture}
\end{document}
